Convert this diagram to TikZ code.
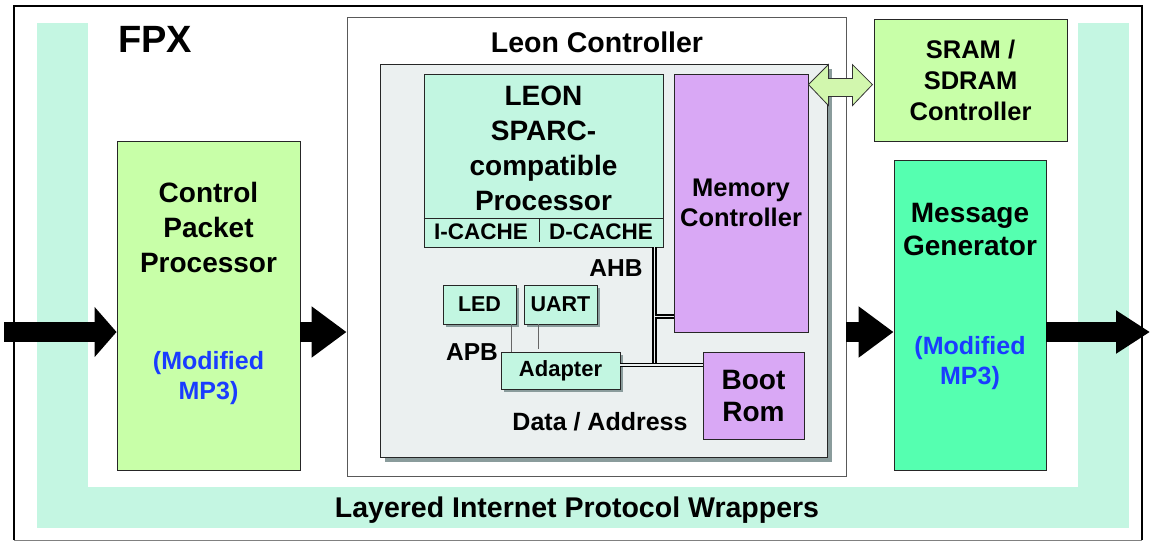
\documentclass[tikz,border=0pt]{standalone}
\usepackage{fontspec}
\setmainfont{Liberation Sans}
\usetikzlibrary{arrows.meta,calc,shadows}

\definecolor{laag}{HTML}{C4F6E2}
\definecolor{lichtgroen}{HTML}{C8FFA8}
\definecolor{mint}{HTML}{C2F6E1}
\definecolor{paars}{HTML}{D9A8F5}
\definecolor{zeegroen}{HTML}{55FFB0}
\definecolor{grijs}{HTML}{EBF0F0}
\definecolor{schaduwgrijs}{HTML}{8A9C9C}
\definecolor{blauw}{HTML}{1A3CFF}
\definecolor{pijlgroen}{HTML}{D2F7AE}

\tikzset{
    blok/.style={draw=black!85, line width=0.9pt, inner sep=0pt, align=center},
    schaduw/.style={general shadow={fill=schaduwgrijs, shadow xshift=#1, shadow yshift=-#1}},
    schaduw/.default=3pt,
    groot/.style={font=\fontsize{28}{35}\selectfont\bfseries, align=center, inner sep=0pt},
    middel/.style={font=\fontsize{25.5}{30}\selectfont\bfseries, align=center, inner sep=0pt},
    klein/.style={font=\fontsize{21.5}{25}\selectfont\bfseries, align=center, inner sep=0pt},
    blokpijl/.style 2 args={line width=20pt, -{Triangle[length=#1, width=#2]}},
    dubbelpijl/.style={draw=black!80, fill=pijlgroen, line width=0.8pt},
    bus/.style={draw=black, line width=1.5pt, double=grijs, double distance=1.4pt},
    apb/.style={draw=black!60, line width=0.8pt}
}

\begin{document}
\begin{tikzpicture}[x=1pt, y=-1pt]
    \useasboundingbox (0,0) rectangle (1150,542);

    % protocol wrapper band
    \fill[laag] (37,23) rectangle (1129,528);
    \fill[white] (88,16) rectangle (1078,487);
    \node[font=\fontsize{28.5}{32}\selectfont\bfseries, inner sep=0pt] (wrap) at (577,510) {Layered Internet Protocol Wrappers};
    \node[font=\fontsize{38}{44}\selectfont\bfseries, inner sep=0pt] (fpx) at (155,39) {FPX};

    % leon controller
    \node[blok, draw=black!65, fill=white, minimum width=499pt, minimum height=459pt] (leon) at (596.5,246.5) {};
    \node[font=\fontsize{28.5}{32}\selectfont\bfseries, inner sep=0pt] (leontitel) at (597,42) {Leon Controller};
    \node[blok, fill=grijs, schaduw=5pt, minimum width=447pt, minimum height=393pt] (kern) at (603.5,260.5) {};

    \node[blok, fill=mint, minimum width=239pt, minimum height=173pt] (proc) at (543.5,160.5) {};
    \node[groot] (proctekst) at (543.5,148) {LEON\\SPARC-\\compatible\\Processor};
    \draw[black!85, line width=0.9pt] ($(proc.south west)+(0,-29)$) coordinate (cache) -- ($(proc.south east)+(0,-29)$);
    \draw[black!85, line width=0.9pt] (539,218) -- (539,242);
    \node[klein, font=\fontsize{22.5}{25}\selectfont\bfseries] (icache) at (481,232) {I-CACHE};
    \node[klein, font=\fontsize{22.5}{25}\selectfont\bfseries] (dcache) at (601,232) {D-CACHE};

    \node[blok, fill=paars, middel, minimum width=134pt, minimum height=258pt] (mem) at (741,203) {Memory\\Controller};
    \node[blok, fill=paars, groot, font=\fontsize{28}{32}\selectfont\bfseries, minimum width=101pt, minimum height=87pt] (boot) at (753.5,395.5) {Boot\\Rom};
    \node[blok, fill=mint, schaduw, klein, minimum width=73pt, minimum height=39pt] (led) at (479.5,304.5) {LED};
    \node[blok, fill=mint, schaduw, klein, minimum width=73pt, minimum height=39pt] (uart) at (560.5,304.5) {UART};
    \node[blok, fill=mint, schaduw, klein, font=\fontsize{22}{25}\selectfont\bfseries, minimum width=119pt, minimum height=37pt] (adapter) at (560.5,370.5) {Adapter};

    % busses
    \coordinate (ahb) at (654.5,365);
    \coordinate (ahbmem) at (654.5,316.5);
    \draw[bus] (ahb |- proc.south) -- (ahb);
    \draw[bus] (adapter.east |- ahb) -- (boot.west |- ahb);
    \draw[bus] (ahbmem) -- (mem.west |- ahbmem);
    \draw[apb] ([xshift=-5pt]led.south east) -- ([xshift=-5pt]led.south east |- adapter.north);
    \draw[apb] ([xshift=15pt]uart.south west) -- ++(0,25);
    \node[font=\fontsize{24.5}{28}\selectfont\bfseries, inner sep=0pt] (ahbtekst) at (616,268) {AHB};
    \node[font=\fontsize{24.5}{28}\selectfont\bfseries, inner sep=0pt] (apbtekst) at (472,352) {APB};
    \node[font=\fontsize{25}{28}\selectfont\bfseries, inner sep=0pt] (adres) at (600,422) {Data / Address};

    % outer blocks
    \node[blok, fill=lichtgroen, minimum width=183pt, minimum height=329pt] (cpp) at (208.5,305.5) {};
    \node[groot] (cpptekst) at (208.5,227) {Control\\Packet\\Processor};
    \node[middel, font=\fontsize{25}{30}\selectfont\bfseries, text=blauw] (cppmp3) at (208.5,378) {(Modified\\MP3)};
    \node[blok, fill=lichtgroen, middel, font=\fontsize{25.5}{31}\selectfont\bfseries, minimum width=193pt, minimum height=122pt] (sram) at (970.5,80) {SRAM /\\SDRAM\\Controller};
    \node[blok, fill=zeegroen, minimum width=152pt, minimum height=310pt] (msg) at (970,315) {};
    \node[groot, font=\fontsize{28}{33}\selectfont\bfseries] (msgtekst) at (970,229.5) {Message\\Generator};
    \node[middel, font=\fontsize{25}{30}\selectfont\bfseries, text=blauw] (msgmp3) at (970,363) {(Modified\\MP3)};

    % data flow
    \coordinate (pijl) at (0,332);
    \coordinate (in) at (4,332);
    \coordinate (uit) at (1150,332);
    \draw[blokpijl={22pt}{49pt}] (in) -- (cpp.west |- pijl);
    \draw[blokpijl={35pt}{49pt}] (cpp.east |- pijl) -- (leon.west |- pijl);
    \draw[blokpijl={35pt}{49pt}] (leon.east |- pijl) -- (msg.west |- pijl);
    \draw[blokpijl={34pt}{41pt}] (msg.east |- pijl) -- (uit);
    \draw[dubbelpijl] ($(mem.north east)+(0,11)$) -- ++(20,-20) -- ++(0,14) -- ++(24,0) -- ++(0,-14)
        -- ++(20,20) -- ++(-20,21) -- ++(0,-9) -- ++(-24,0) -- ++(0,9) -- cycle;

    % fpx frame
    \draw[black!50, line width=1pt] (14,540) -- (1142,540);
    \draw[line width=2.3pt] (14,540) -- (14,6) -- (1142,6) -- (1142,540);
\end{tikzpicture}
\end{document}
